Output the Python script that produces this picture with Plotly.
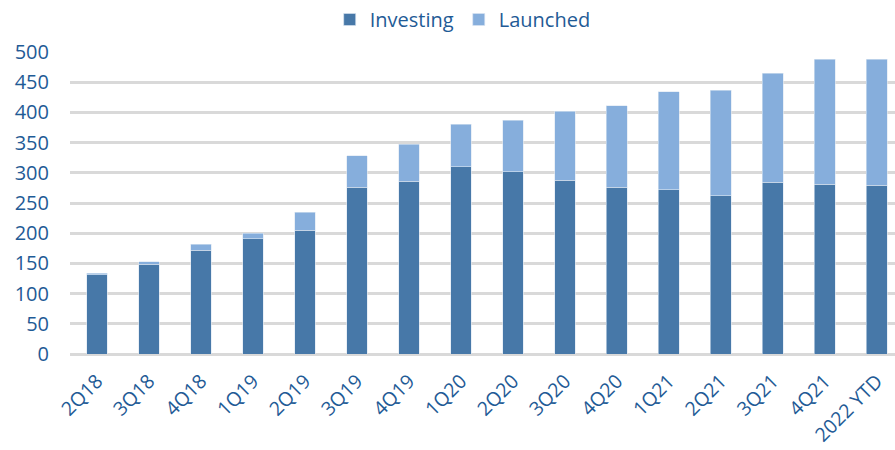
import plotly.graph_objects as go

# Quarterly counts: funds still investing vs. already launched
quarters = ["2Q18", "3Q18", "4Q18", "1Q19", "2Q19", "3Q19", "4Q19", "1Q20",
            "2Q20", "3Q20", "4Q20", "1Q21", "2Q21", "3Q21", "4Q21", "2022 YTD"]
investing = [131, 149, 172, 191, 205, 276, 286, 310, 302, 288, 276, 272, 262, 284, 281, 279]
launched = [3, 4, 10, 9, 30, 52, 61, 70, 85, 114, 135, 162, 175, 181, 207, 209]
y_ticks = [0, 50, 100, 150, 200, 250, 300, 350, 400, 450, 500]

DARK = "#4778A8"
LIGHT = "#86AEDC"
TEXT = "#1F5B96"
GRID = "#D9D9D9"
FONT = "Open Sans"

fig = go.Figure()
fig.add_trace(go.Bar(x=quarters, y=investing, name="Investing",
                     marker=dict(color=DARK, line=dict(color="#DCE6F2", width=0.6))))
fig.add_trace(go.Bar(x=quarters, y=launched, name="Launched",
                     marker=dict(color=LIGHT, line=dict(color="#DCE6F2", width=0.6))))

fig.update_layout(
    width=895, height=450,
    barmode="stack", bargap=0.6,
    plot_bgcolor="white", paper_bgcolor="white",
    margin=dict(l=70, r=0, t=50, b=96),
    font=dict(family=FONT, size=20, color=TEXT),
    legend=dict(orientation="h", x=0.476, xanchor="center", y=1.109, yanchor="middle",
                font=dict(family=FONT, size=20, color=TEXT), traceorder="normal",
                itemwidth=30),
    xaxis=dict(range=[-0.52, 15.35], tickangle=-45, showgrid=False,
               showline=False, ticks="", ticklabelstandoff=11, automargin=False,
               tickfont=dict(size=19.5, color=TEXT)),
    yaxis=dict(range=[0, 500], tickvals=y_ticks, showgrid=True, gridcolor=GRID,
               gridwidth=2.5, zeroline=True, zerolinecolor=GRID, zerolinewidth=2.5,
               ticks="", ticklabelstandoff=20, automargin=False,
               tickfont=dict(size=20, color=TEXT)),
)

fig.write_html("out.html")
